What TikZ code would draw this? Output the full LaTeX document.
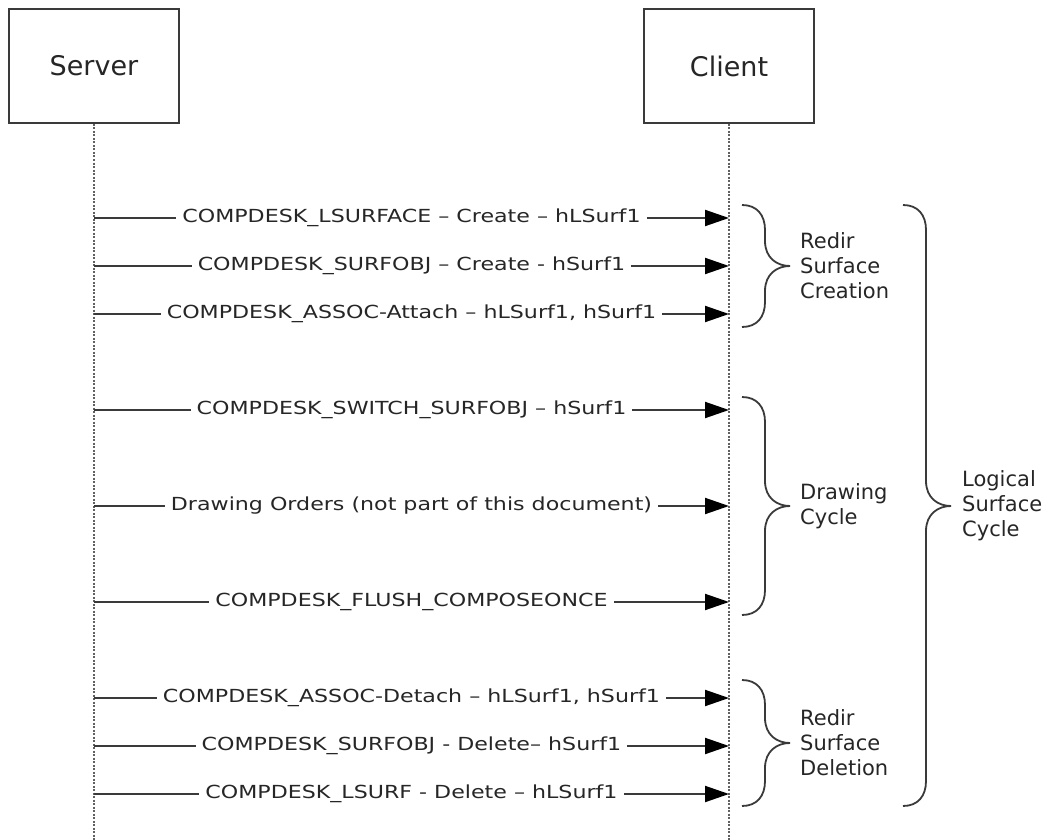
\documentclass[tikz,border=0pt]{standalone}
\usepackage{fontspec}
\setmainfont{DejaVu Sans}
\newfontfamily\msgfont{DejaVu Sans}[FakeStretch=1.23]
\usepackage{tikz}
\usetikzlibrary{arrows.meta}
\usetikzlibrary{calc}
\usetikzlibrary{positioning}

\definecolor{ink}{HTML}{3A3A3A}
\definecolor{txt}{HTML}{262626}

\tikzset{
	party/.style={draw=ink, line width=2pt, minimum width=170pt, minimum height=114pt, text=txt, font=\fontsize{27}{32}\selectfont},
	lifeline/.style={draw=ink!80, line width=1.5pt, dash pattern=on 2pt off 1.5pt},
	msg/.style={draw=ink, line width=2pt, -{Triangle[length=24pt,width=16pt,fill=black,color=black]}},
	msglabel/.style={fill=white, text=txt, inner xsep=6pt, inner ysep=2pt, font=\msgfont\fontsize{18}{21}\selectfont},
	grpline/.style={draw=ink, line width=1.8pt},
	grplabel/.style={right, align=left, text=txt, inner sep=0pt, font=\fontsize{21}{25}\selectfont}
}

% brace: x of ends, top y, bottom y, tip y
\newcommand{\grpbrace}[4]{%
	\draw[grpline] (#1,#2) .. controls (#1+15,#2) and (#1+23,#2+10) .. (#1+23,#2+25)
		-- (#1+23,#4-25) .. controls (#1+23,#4-8) and (#1+35,#4) .. (#1+48,#4)
		.. controls (#1+35,#4) and (#1+23,#4+8) .. (#1+23,#4+25)
		-- (#1+23,#3-25) .. controls (#1+23,#3-10) and (#1+15,#3) .. (#1,#3);
}

\begin{document}
\begin{tikzpicture}[x=1pt, y=-1pt]
		\useasboundingbox (0,0) rectangle (1044,840);

		\node[party] (server) at (94,66) {Server};
		\node[party] (client) at (729,66) {Client};
		\coordinate (serverEnd) at (94,840);
		\coordinate (clientEnd) at (729,840);
		\draw[lifeline] (server.south) -- (serverEnd);
		\draw[lifeline] (client.south) -- (clientEnd);

		\foreach \y/\txt [count=\i] in {
			218/{COMPDESK\_LSURFACE – Create – hLSurf1},
			266/{COMPDESK\_SURFOBJ – Create - hSurf1},
			314/{COMPDESK\_ASSOC-Attach – hLSurf1, hSurf1},
			410/{COMPDESK\_SWITCH\_SURFOBJ – hSurf1},
			506/{Drawing Orders (not part of this document)},
			602/{COMPDESK\_FLUSH\_COMPOSEONCE},
			698/{COMPDESK\_ASSOC-Detach – hLSurf1, hSurf1},
			746/{COMPDESK\_SURFOBJ - Delete– hSurf1},
			794/{COMPDESK\_LSURF - Delete – hLSurf1}}
		{
			\coordinate (s\i) at (94,\y);
			\coordinate (c\i) at (729,\y);
			\draw[msg] (s\i) -- node[msglabel] (m\i) {\txt} (c\i);
		}

		\grpbrace{742}{205}{327}{266}
		\grpbrace{742}{397}{615}{506}
		\grpbrace{742}{680}{806}{743}
		\grpbrace{903}{205}{806}{506}

		\node[grplabel] (creation) at (800,266) {Redir\\Surface\\Creation};
		\node[grplabel] (drawing) at (800,506) {Drawing\\Cycle};
		\node[grplabel] (deletion) at (800,743) {Redir\\Surface\\Deletion};
		\node[grplabel] (logical) at (962,506) {Logical\\Surface\\Cycle};
	\end{tikzpicture}
\end{document}
